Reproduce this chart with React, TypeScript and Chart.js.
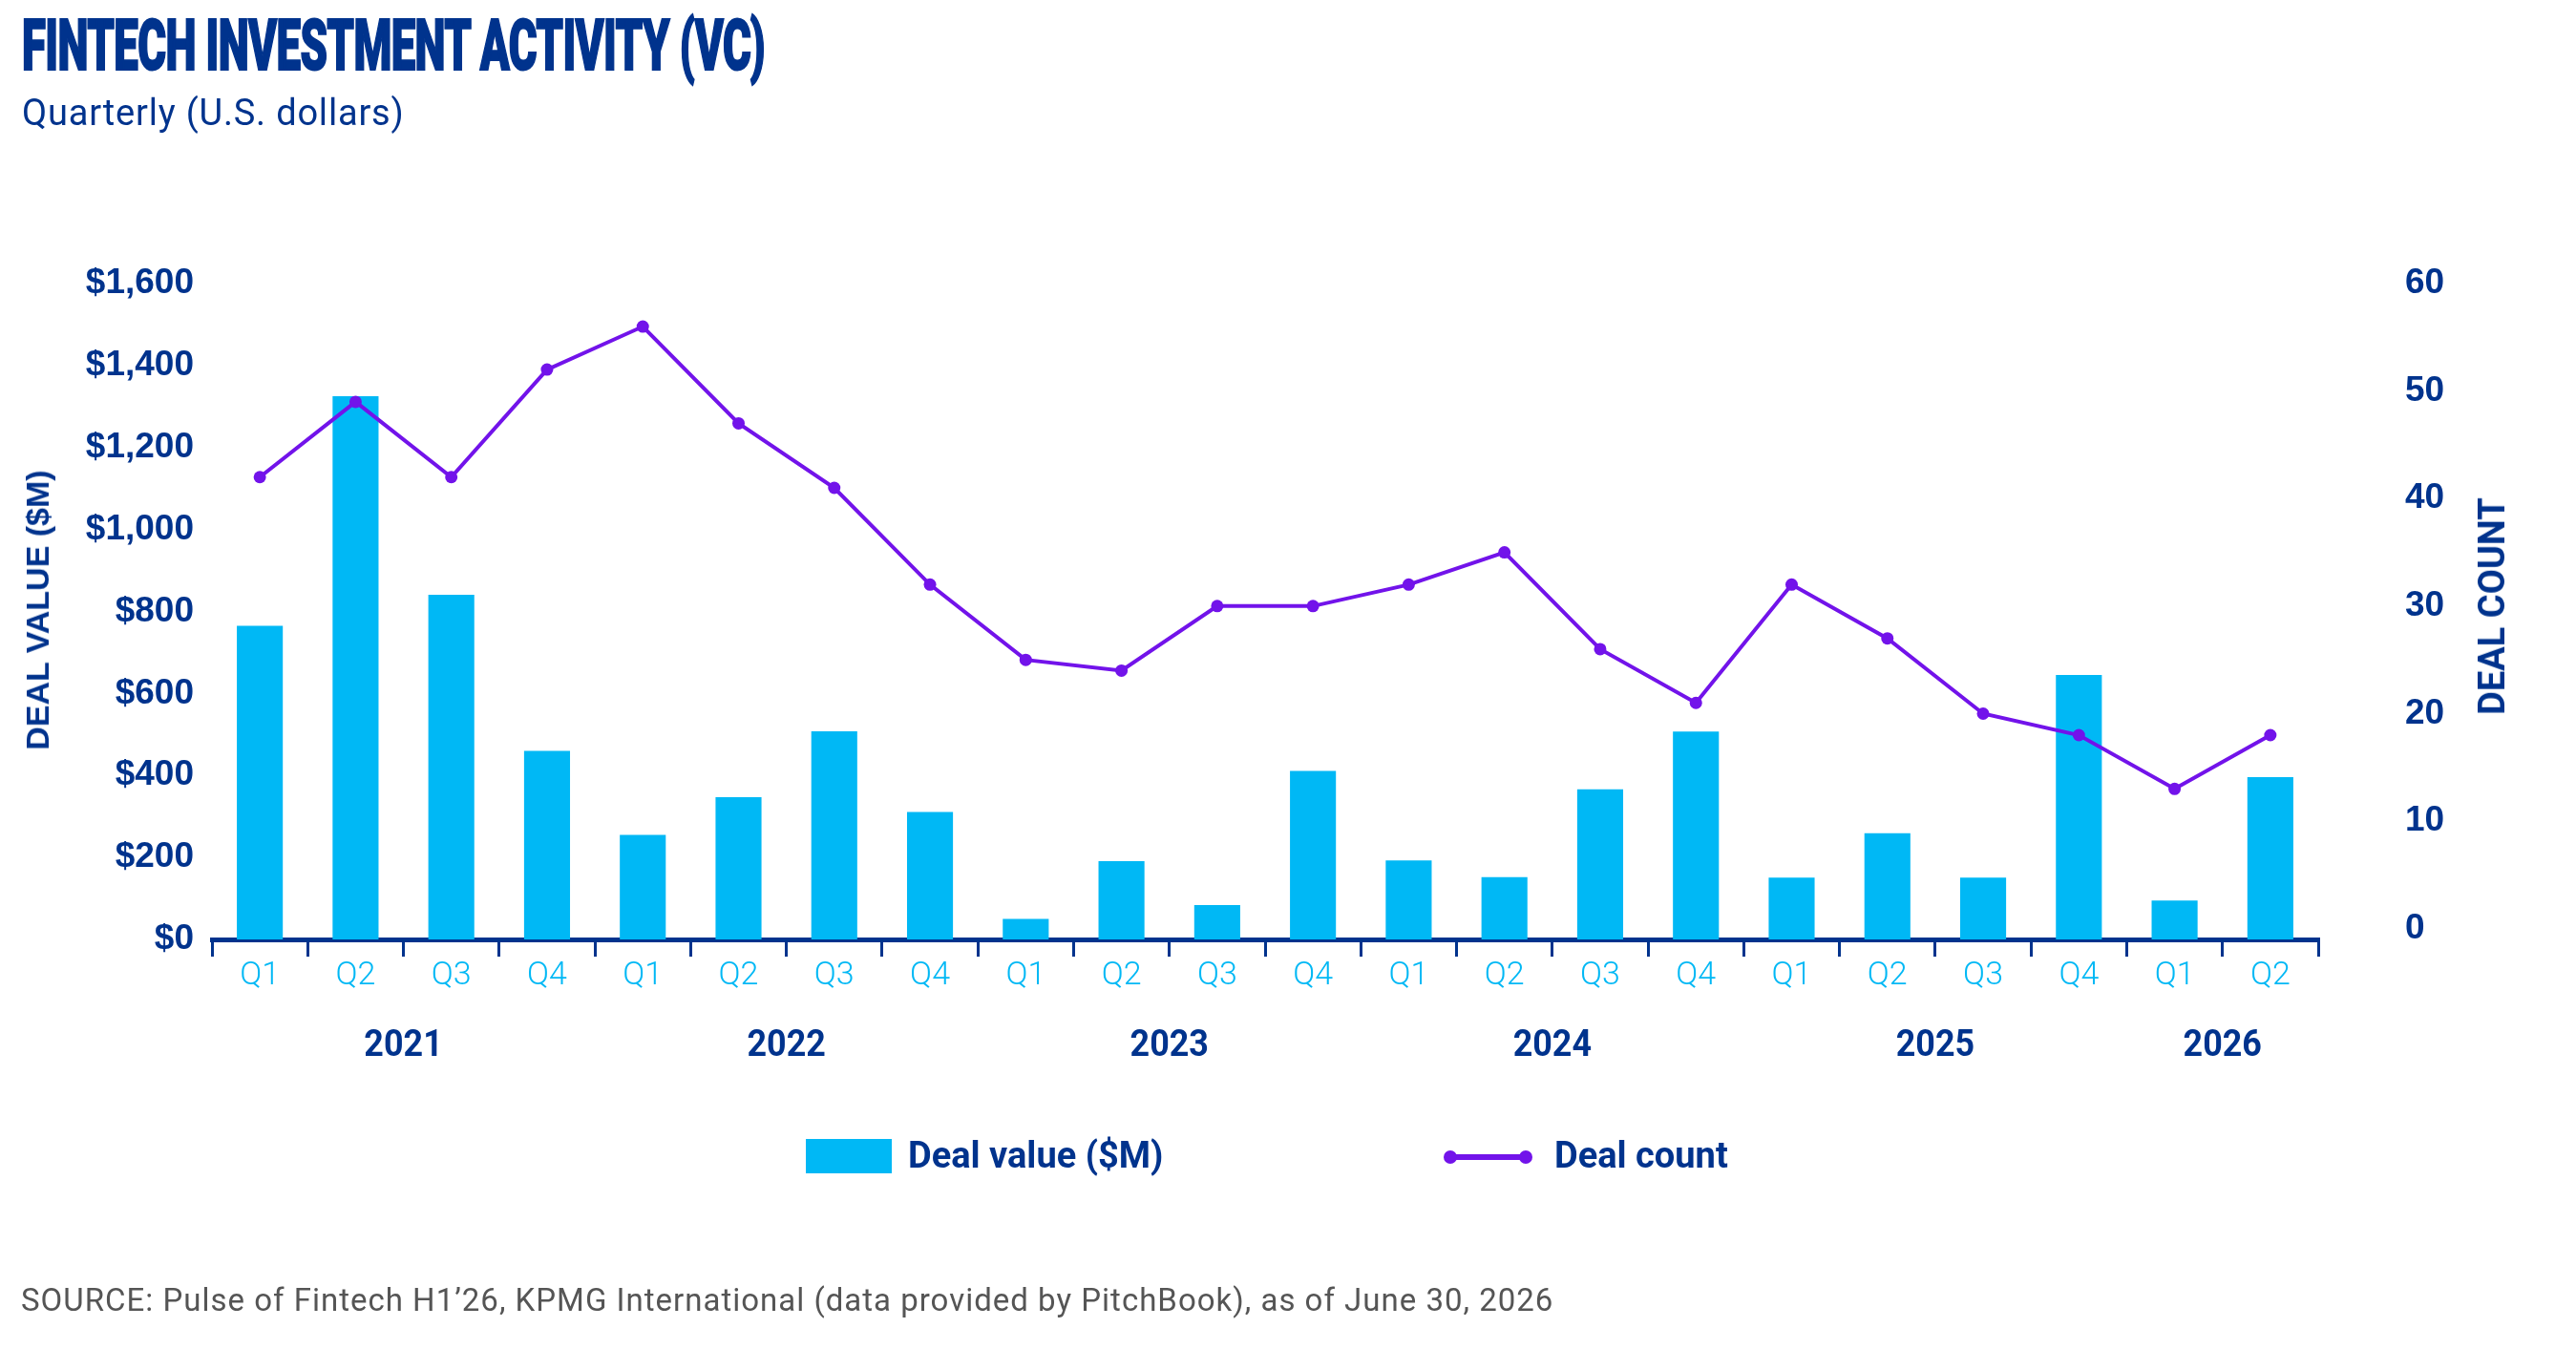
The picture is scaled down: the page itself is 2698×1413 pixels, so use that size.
import React, { useEffect, useRef } from 'react';
import { Chart, registerables } from 'chart.js';

Chart.register(...registerables);

const NAVY = '#00338D';
const CYAN = '#00B8F5';
const PURPLE = '#7213EA';
const GREY = '#555555';

// data
const quarters = [
  'Q1', 'Q2', 'Q3', 'Q4',
  'Q1', 'Q2', 'Q3', 'Q4',
  'Q1', 'Q2', 'Q3', 'Q4',
  'Q1', 'Q2', 'Q3', 'Q4',
  'Q1', 'Q2', 'Q3', 'Q4',
  'Q1', 'Q2',
];
const years = ['2021', '2022', '2023', '2024', '2025', '2026'];
const quartersPerYear = [4, 4, 4, 4, 4, 2];
const dealValue = [765, 1325, 841, 460, 255, 347, 508, 311, 50, 191, 84, 411, 193, 152, 366, 507, 151, 259, 151, 645, 95, 396];
const dealCount = [42, 49, 42, 52, 56, 47, 41, 32, 25, 24, 30, 30, 32, 35, 26, 21, 32, 27, 20, 18, 13, 18];
const valueTicks = [0, 200, 400, 600, 800, 1000, 1200, 1400, 1600];
const countTicks = [0, 10, 20, 30, 40, 50, 60];

const W = 2698;
const H = 1413;
const PLOT = { left: 222, right: 2428, top: 297, bottom: 984 };

const yearLabels = {
  id: 'yearLabels',
  afterDraw(chart: any) {
    const { ctx } = chart;
    const x = chart.scales.x;
    let start = 0;
    ctx.save();
    ctx.fillStyle = NAVY;
    ctx.font = 'bold 39px Roboto';
    ctx.textAlign = 'center';
    ctx.textBaseline = 'alphabetic';
    years.forEach((yr, i) => {
      const end = start + quartersPerYear[i] - 1;
      const cx = (x.getPixelForValue(start) + x.getPixelForValue(end)) / 2;
      ctx.save();
      ctx.translate(cx, 1106);
      ctx.scale(0.92, 1);
      ctx.fillText(yr, 0, 0);
      ctx.restore();
      start = end + 1;
    });
    ctx.restore();
  },
};

const App: React.FC = () => {
  const canvasRef = useRef<HTMLCanvasElement>(null);
  const chartRef = useRef<Chart | null>(null);

  useEffect(() => {
    if (!canvasRef.current) return;
    if (chartRef.current) {
      chartRef.current.destroy();
      chartRef.current = null;
    }

    const tickFont = { family: '"Liberation Sans", Arial, sans-serif', size: 37, weight: 'bold' as const };

    chartRef.current = new Chart(canvasRef.current, {
      type: 'bar',
      data: {
        labels: quarters,
        datasets: [
          {
            type: 'line' as const,
            label: 'Deal count',
            data: dealCount,
            yAxisID: 'y1',
            borderColor: PURPLE,
            backgroundColor: PURPLE,
            borderWidth: 4,
            pointRadius: 6.5,
            pointBorderWidth: 0,
            pointBackgroundColor: PURPLE,
            tension: 0,
            order: 1,
          },
          {
            type: 'bar' as const,
            label: 'Deal value ($M)',
            data: dealValue,
            yAxisID: 'y',
            backgroundColor: CYAN,
            barPercentage: 0.48,
            categoryPercentage: 1,
            order: 2,
          },
        ],
      },
      options: {
        animation: false,
        responsive: true,
        maintainAspectRatio: false,
        devicePixelRatio: 1,
        layout: { padding: { top: PLOT.top, left: 0, right: 0, bottom: 0 } },
        plugins: {
          legend: { display: false },
          tooltip: { enabled: false },
        },
        scales: {
          x: {
            offset: true,
            grid: {
              display: true,
              drawOnChartArea: false,
              drawTicks: true,
              offset: true,
              tickLength: 18,
              color: NAVY,
              lineWidth: 3,
            },
            border: { display: true, color: NAVY, width: 5 },
            ticks: {
              color: CYAN,
              font: { family: 'Roboto, sans-serif', size: 34, weight: 300 },
              padding: 0,
              maxRotation: 0,
              autoSkip: false,
            },
            afterFit: (s: any) => {
              s.height = H - PLOT.bottom;
            },
          },
          y: {
            position: 'left',
            min: 0,
            max: 1600,
            afterBuildTicks: (s: any) => {
              s.ticks = valueTicks.map((v) => ({ value: v }));
            },
            grid: { display: false, drawTicks: false, tickLength: 0 },
            border: { display: false },
            ticks: {
              color: NAVY,
              font: tickFont,
              padding: 19,
              callback: (v: any) => '$' + Number(v).toLocaleString('en-US'),
            },
            afterFit: (s: any) => {
              s.width = PLOT.left;
            },
          },
          y1: {
            position: 'right',
            min: -1,
            max: 60,
            afterBuildTicks: (s: any) => {
              s.ticks = countTicks.map((v) => ({ value: v }));
            },
            grid: { display: false, drawTicks: false, tickLength: 0 },
            border: { display: false },
            ticks: {
              color: NAVY,
              font: tickFont,
              padding: 91,
            },
            afterFit: (s: any) => {
              s.width = W - PLOT.right;
            },
          },
        },
      },
      plugins: [yearLabels],
    });

    return () => {
      if (chartRef.current) {
        chartRef.current.destroy();
        chartRef.current = null;
      }
    };
  }, []);

  const abs = (style: React.CSSProperties): React.CSSProperties => ({
    position: 'absolute',
    whiteSpace: 'nowrap',
    margin: 0,
    ...style,
  });

  return (
    <div
      style={{
        position: 'fixed',
        left: 0,
        top: 0,
        width: W,
        height: H,
        background: '#fff',
        fontFamily: 'Roboto, sans-serif',
        overflow: 'hidden',
      }}
    >
      <canvas ref={canvasRef} style={{ position: 'absolute', left: 0, top: 0 }} />

      <div
        style={abs({
          left: 23,
          top: 10,
          fontSize: 75,
          lineHeight: '75px',
          fontWeight: 900,
          color: NAVY,
          transform: 'scaleX(0.607)',
          transformOrigin: 'left top',
          WebkitTextStroke: `2px ${NAVY}`,
          letterSpacing: -1,
        })}
      >
        FINTECH INVESTMENT ACTIVITY (VC)
      </div>
      <div style={abs({ left: 23, top: 99, fontSize: 38, lineHeight: '38px', color: NAVY, letterSpacing: 0.8 })}>
        Quarterly (U.S. dollars)
      </div>

      <div
        style={abs({
          left: 39,
          top: 639,
          transform: 'translate(-50%, -50%) rotate(-90deg)',
          fontFamily: '"Liberation Sans", Arial, sans-serif',
          fontWeight: 'bold',
          fontSize: 34,
          lineHeight: '34px',
          color: NAVY,
        })}
      >
        DEAL VALUE ($M)
      </div>
      <div
        style={abs({
          left: 2610,
          top: 635,
          transform: 'translate(-50%, -50%) rotate(-90deg)',
          fontWeight: 'bold',
          fontSize: 38,
          lineHeight: '38px',
          color: NAVY,
        })}
      >
        DEAL COUNT
      </div>

      {/* legend */}
      <div style={abs({ left: 844, top: 1193, width: 90, height: 36, background: CYAN })} />
      <div style={abs({ left: 951, top: 1191, fontSize: 38, lineHeight: '38px', fontWeight: 'bold', color: NAVY })}>
        Deal value ($M)
      </div>
      <div style={abs({ left: 1519, top: 1209, width: 79, height: 6, background: PURPLE })} />
      <div style={abs({ left: 1512, top: 1205, width: 14, height: 14, borderRadius: 7, background: PURPLE })} />
      <div style={abs({ left: 1591, top: 1205, width: 14, height: 14, borderRadius: 7, background: PURPLE })} />
      <div style={abs({ left: 1628, top: 1191, fontSize: 38, lineHeight: '38px', fontWeight: 'bold', color: NAVY })}>
        Deal count
      </div>

      <div style={abs({ left: 22, top: 1345, fontSize: 33, lineHeight: '33px', color: GREY, letterSpacing: 1 })}>
        SOURCE: Pulse of Fintech H1’26, KPMG International (data provided by PitchBook), as of June 30, 2026
      </div>
    </div>
  );
};

export default App;
